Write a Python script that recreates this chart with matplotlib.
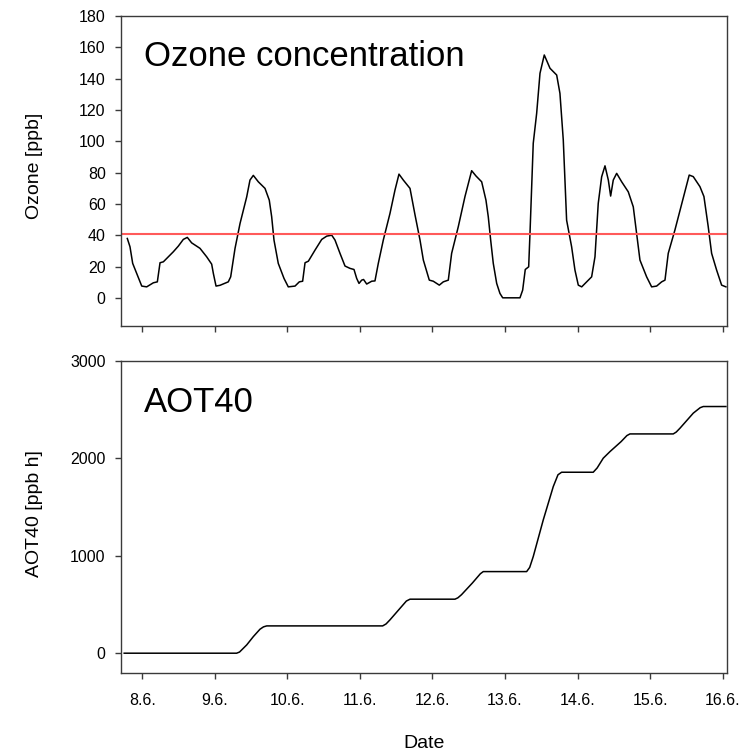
import matplotlib
matplotlib.use("Agg")
import matplotlib.pyplot as plt

plt.rcParams['font.family'] = ['Liberation Sans', 'DejaVu Sans']

# x positions are days after 8.6. (0 = 8.6., 1 = 9.6., ...)
tick_labels = ['8.6.', '9.6.', '10.6.', '11.6.', '12.6.', '13.6.', '14.6.', '15.6.', '16.6.']

ozone_day = [-0.207, -0.17, -0.133, -0.087, -0.008, 0.06, 0.152, 0.207, 0.244, 0.29, 0.358, 0.427,
             0.496, 0.565, 0.62, 0.68, 0.795, 0.887, 0.956, 0.979, 1.016, 1.071, 1.185, 1.218,
             1.278, 1.347, 1.439, 1.484, 1.53, 1.599, 1.691, 1.75, 1.783, 1.815, 1.874, 1.953,
             2.012, 2.105, 2.164, 2.21, 2.243, 2.289, 2.381, 2.473, 2.542, 2.611, 2.656, 2.725,
             2.794, 2.863, 2.918, 2.955, 2.987, 3.024, 3.05, 3.093, 3.162, 3.207, 3.253, 3.322,
             3.414, 3.483, 3.538, 3.598, 3.69, 3.759, 3.828, 3.874, 3.956, 4.011, 4.094, 4.149,
             4.218, 4.264, 4.356, 4.448, 4.54, 4.6, 4.678, 4.737, 4.769, 4.802, 4.838, 4.885,
             4.93, 4.968, 5.206, 5.243, 5.279, 5.326, 5.344, 5.389, 5.436, 5.482, 5.541, 5.62,
             5.712, 5.757, 5.803, 5.849, 5.918, 5.964, 6.01, 6.057, 6.125, 6.194, 6.24, 6.285,
             6.332, 6.378, 6.424, 6.456, 6.492, 6.539, 6.608, 6.699, 6.768, 6.814, 6.86, 6.952,
             7.021, 7.09, 7.159, 7.205, 7.25, 7.342, 7.449, 7.539, 7.595, 7.687, 7.742, 7.801,
             7.848, 7.917, 7.986, 8.045]
ozone_ppb = [37.9, 32.6, 22, 16.6, 7.5, 7, 9.6, 10.2, 22.4, 23, 26.2, 29.4,
             33, 37.3, 38.6, 35.1, 31.6, 26.2, 21.5, 15.6, 7.5, 8, 10.2, 13.4,
             31.6, 47.5, 64.5, 75.2, 78.2, 74.1, 69.9, 62.4, 51.8, 36.9, 22, 12.4,
             7, 7.5, 10.2, 10.6, 22.4, 23.4, 30.5, 37.3, 39.4, 40, 36.9, 28.4,
             20.3, 18.8, 18.1, 12.4, 9.2, 11.3, 11.7, 8.8, 10.6, 10.8, 22, 36.9,
             53.9, 68.8, 79, 75.2, 69.9, 53, 36.9, 24.1, 11.3, 10.6, 8.1, 10.2,
             11.3, 28.4, 45.5, 64.7, 81.2, 77.8, 74.1, 62.4, 51.8, 36.9, 22, 9.2,
             2.8, 0, 0, 4.9, 18.1, 19.8, 41.1, 98.7, 117.8, 143.4, 155.1, 146.6,
             142.3, 130.6, 100.8, 49.6, 32.6, 17.7, 8.1, 7, 10.2, 13.4, 26.2, 60.3,
             77.3, 84.3, 75.2, 65, 75.2, 79.5, 74.1, 67.7, 58.1, 41.1, 24.1, 13.4,
             7, 7.5, 10.2, 11.3, 28.4, 43.3, 62.4, 78.4, 77.4, 71, 64.7, 45.5,
             28.4, 17.7, 8.1, 7]
threshold_ppb = 40.5

aot_day = [-0.25, 1.30, 1.34, 1.37, 1.439, 1.53, 1.622, 1.67, 1.715, 3.313, 3.36, 3.414, 3.552,
           3.64, 3.69, 4.31, 4.35, 4.40, 4.55, 4.66, 4.70, 5.298, 5.34, 5.389, 5.527, 5.665,
           5.73, 5.78, 6.216, 6.27, 6.354, 6.447, 6.60, 6.68, 6.722, 7.319, 7.36, 7.411,
           7.595, 7.69, 7.733, 8.045]
aot_val = [0, 0, 12, 34, 85, 170, 246, 270, 280, 280, 300, 342, 460,
           535, 554, 554, 568, 600, 720, 815, 837, 837, 880, 991, 1367, 1709,
           1830, 1856, 1856, 1900, 2000, 2068, 2170, 2232, 2249, 2249, 2268, 2307,
           2462, 2518, 2530, 2530]

fig = plt.figure(figsize=(7.46, 7.55), dpi=100)
W, H = 746, 755
def rect(l, t, r, b):
    return [l / W, 1 - b / H, (r - l) / W, (b - t) / H]

ax1 = fig.add_axes(rect(121, 16, 727, 326))
ax2 = fig.add_axes(rect(121, 360.7, 727, 672.7))

spine_col = '#3a3a3a'
for ax in (ax1, ax2):
    for s in ax.spines.values():
        s.set_color(spine_col)
        s.set_linewidth(1.0)
    ax.set_xlim(-0.294, 8.06)
    ax.set_xticks(range(len(tick_labels)))
    ax.tick_params(direction='out', length=4.5, width=1.0, color=spine_col,
                   labelsize=11.5, pad=6.5)
    ax.tick_params(axis='x', pad=10)

ax1.plot(ozone_day, ozone_ppb, color='black', lw=1.1)
ax1.axhline(threshold_ppb, color='#ff5a5a', lw=1.5)
ax1.set_ylim(-18, 180)
ax1.set_yticks(range(0, 181, 20))
ax1.set_xticklabels([])
ax1.set_ylabel('Ozone [ppb]', fontsize=14)
ax1.yaxis.set_label_coords(-0.128, 0.515)
ax1.text(0.038, 0.838, 'Ozone concentration', transform=ax1.transAxes,
         fontsize=25, ha='left', va='baseline')

ax2.plot(aot_day, aot_val, color='black', lw=1.1)
ax2.set_ylim(-200, 3000)
ax2.set_yticks([0, 1000, 2000, 3000])
ax2.set_xticklabels(tick_labels)
ax2.set_ylabel('AOT40 [ppb h]', fontsize=14)
ax2.yaxis.set_label_coords(-0.128, 0.51)
ax2.set_xlabel('Date', fontsize=14)
ax2.xaxis.set_label_coords(0.5, -0.20)
ax2.text(0.038, 0.835, 'AOT40', transform=ax2.transAxes,
         fontsize=25, ha='left', va='baseline')

fig.savefig('out.png', dpi=100)
